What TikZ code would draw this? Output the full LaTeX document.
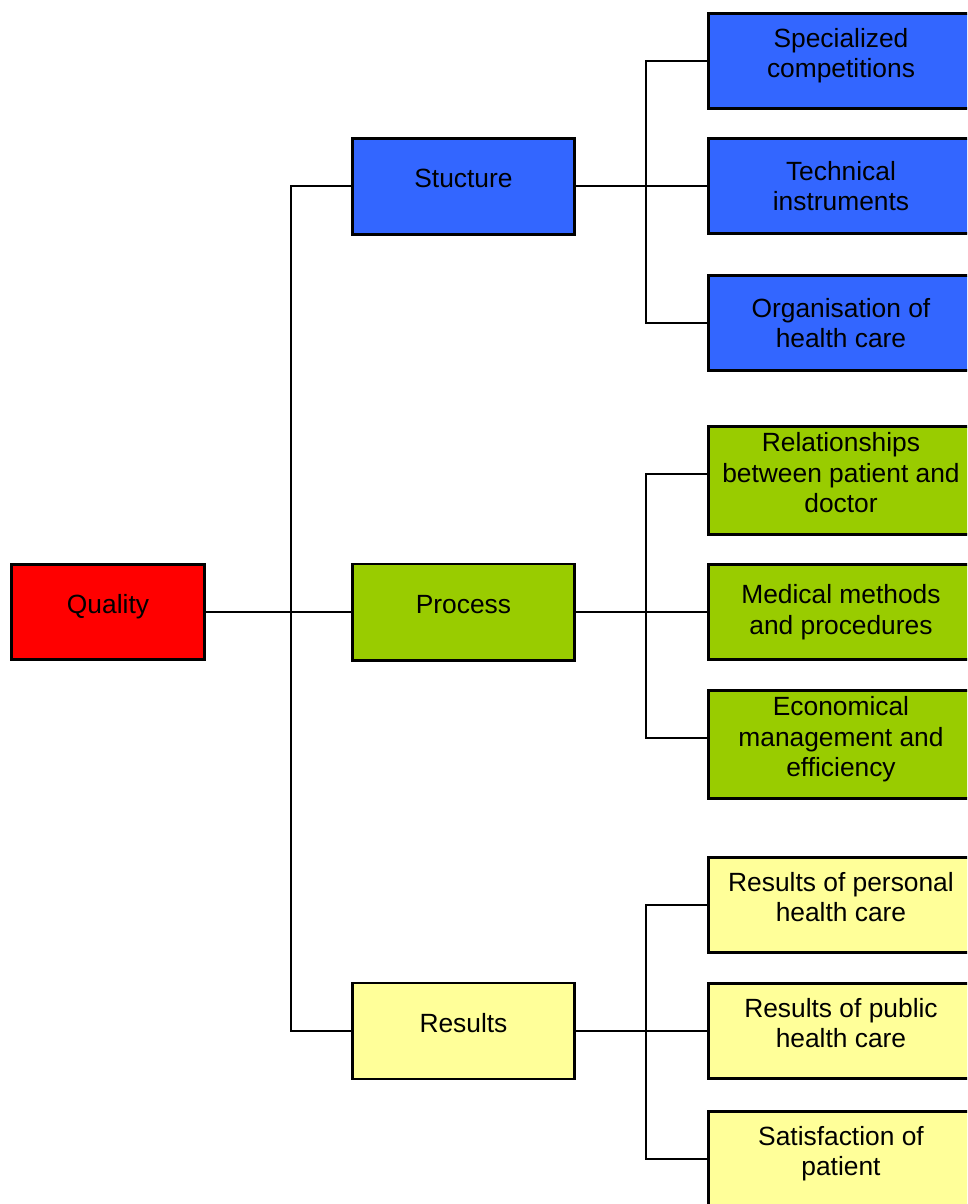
\documentclass[tikz,border=0pt]{standalone}
\usepackage{fontspec}
\setmainfont{Liberation Sans}
\usetikzlibrary{positioning}
\definecolor{qred}{HTML}{FF0000}
\definecolor{stucblue}{HTML}{3366FF}
\definecolor{procgreen}{HTML}{99CC00}
\definecolor{resyellow}{HTML}{FFFF99}
\newcommand{\lowstrut}{\rule[-9pt]{0pt}{9pt}}
\tikzset{
  box/.style={draw, line width=1.7pt, align=center, inner sep=0pt,
    font=\fontsize{15}{17.3}\selectfont},
  raised/.style={execute at end node=\lowstrut},
  mid/.style={box, minimum width=4.44cm, minimum height=1.92cm},
  leaf/.style={box, minimum width=5.3cm, minimum height=1.9cm},
  tall/.style={leaf, minimum height=2.16cm},
  link/.style={line width=1.1pt},
}

\begin{document}
\begin{tikzpicture}
    \clip (0,0) rectangle (19.34,-24.08);

    \node (quality) [box, fill=qred, minimum width=3.86cm, minimum height=1.9cm, raised] at (2.16,-12.24) {Quality};
    \node[right=2.9cm of quality] (process) [mid, fill=procgreen, raised] {Process};
    \node[above=6.54cm of process] (stucture) [mid, fill=stucblue, raised] {Stucture};
    \node[below=6.4cm of process] (results) [mid, fill=resyellow, raised] {Results};
    \coordinate[right=1.7cm of quality] (qjoin);
    \draw [link] (quality) -- (process);
    \draw [link] (qjoin) |- (stucture.west) (qjoin) |- (results.west);

    % structure branch
    \node[right=2.62cm of stucture] (tech) [leaf, fill=stucblue] {Technical\\instruments};
    \node[above=0.54cm of tech] (spec) [leaf, fill=stucblue, raised] {Specialized\\competitions};
    \node[below=0.78cm of tech] (org) [leaf, fill=stucblue] {Organisation of\\health care};
    \coordinate[right=1.4cm of stucture] (sjoin);
    \draw [link] (stucture) -- (tech);
    \draw [link] (sjoin) |- (spec.west) (sjoin) |- (org.west);

    % process branch
    \node[right=2.62cm of process] (med) [leaf, fill=procgreen] {Medical methods\\and procedures};
    \node[above=0.54cm of med] (rel) [tall, fill=procgreen, raised] {Relationships\\between patient and\\doctor};
    \node[below=0.56cm of med] (eco) [tall, fill=procgreen, raised] {Economical\\management and\\efficiency};
    \coordinate[right=1.4cm of process] (pjoin);
    \draw [link] (process) -- (med);
    \draw [link] (pjoin) |- ([yshift=0.13cm]rel.west) (pjoin) |- ([yshift=0.13cm]eco.west);

    % results branch
    \node[right=2.62cm of results] (pub) [leaf, fill=resyellow, raised] {Results of public\\health care};
    \node[above=0.56cm of pub] (pers) [leaf, fill=resyellow, raised] {Results of personal\\health care};
    \node[below=0.6cm of pub] (sat) [leaf, fill=resyellow, raised] {Satisfaction of\\patient};
    \coordinate[right=1.4cm of results] (rjoin);
    \draw [link] (results) -- (pub);
    \draw [link] (rjoin) |- (pers.west) (rjoin) |- (sat.west);
\end{tikzpicture}
\end{document}
